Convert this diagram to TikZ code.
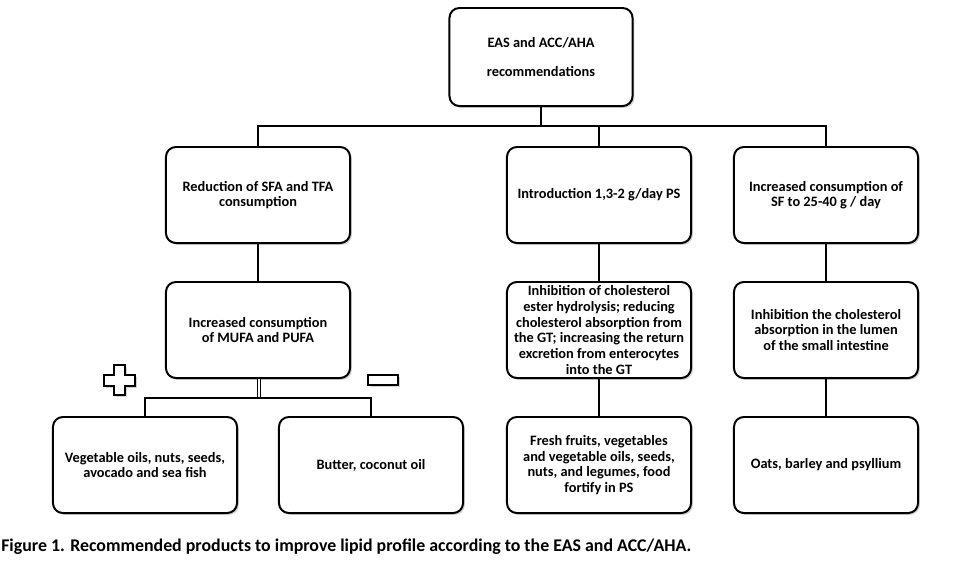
\documentclass[tikz,border=0pt]{standalone}
\usepackage{fontspec}
\setmainfont{Carlito}
\usetikzlibrary{shadows}

\begin{document}
\begin{tikzpicture}[x=0.025cm, y=-0.025cm,
  box/.style={draw, line width=1.4pt, rounded corners=7pt, fill=white, align=center,
    font=\bfseries\fontsize{10.2}{11}\selectfont, inner sep=1pt,
    minimum width=4.6cm, minimum height=2.4cm,
    drop shadow={shadow xshift=1.3pt, shadow yshift=-1.3pt, opacity=0.35}},
  sign/.style={line width=1.4pt, fill=white,
    drop shadow={shadow xshift=1.3pt, shadow yshift=-1.3pt, opacity=0.35}},
  link/.style={line width=0.9pt}]
  \useasboundingbox (0,0) rectangle (974,580);

  % Top box
  \node[box, minimum width=4.575cm, minimum height=2.45cm, font=\bfseries\fontsize{10.2}{20}\selectfont]
    (rec) at (541,57) {EAS and ACC/AHA\\recommendations};

  % Second row
  \node[box] (sfa) at (258,195) {Reduction of SFA and TFA\\consumption};
  \node[box] (ps)  at (599,195) {Introduction 1,3-2 g/day PS};
  \node[box] (sf)  at (826,195) {Increased consumption of\\SF to 25-40 g / day};

  % Third row
  \node[box] (mufa)  at (258,330) {Increased consumption\\of MUFA and PUFA};
  \node[box, font=\bfseries\fontsize{10.2}{11.3}\selectfont] (hydro) at (599,330) {Inhibition of cholesterol\\ester hydrolysis; reducing\\cholesterol absorption from\\the GT; increasing the return\\excretion from enterocytes\\into the GT};
  \node[box] (lumen) at (826,330) {Inhibition the cholesterol\\absorption in the lumen\\of the small intestine};

  % Bottom row
  \node[box] (oils)   at (145,465) {Vegetable oils, nuts, seeds,\\avocado and sea fish};
  \node[box] (butter) at (371,465) {Butter, coconut oil};
  \node[box] (fresh)  at (599,465) {Fresh fruits, vegetables\\and vegetable oils, seeds,\\nuts, and legumes, food\\fortify in PS};
  \node[box] (oats)   at (826,465) {Oats, barley and psyllium};

  % Connectors
  \coordinate (topbus) at (541,126);
  \coordinate (lowbus) at (259,398);
  \draw[link] (rec.south) -- (topbus);
  \draw[link] (sfa.north) |- (topbus) -| (sf.north);
  \draw[link] (ps.north) -- (ps.north |- topbus);
  \draw[link] (sfa.south) -- (mufa.north);
  \draw[link] (ps.south) -- (hydro.north);
  \draw[link] (hydro.south) -- (fresh.north);
  \draw[link] (sf.south) -- (lumen.north);
  \draw[link] (lumen.south) -- (oats.north);
  \draw[line width=0.8pt, double, double distance=1.3pt] (mufa.south -| lowbus) -- (lowbus);
  \draw[link] (oils.north) |- (lowbus) -| (butter.north);

  % Plus and minus signs
  \draw[sign] (114,365) -- (125,365) -- (125,375) -- (135,375) -- (135,386) -- (125,386)
    -- (125,395) -- (114,395) -- (114,386) -- (104,386) -- (104,375) -- (114,375) -- cycle;
  \draw[sign] (368,375) rectangle (398,385);

  % Caption
  \node[anchor=base west, inner sep=0pt, font=\bfseries\fontsize{12.7}{14}\selectfont]
    (caption) at (1,551) {Figure 1. Recommended products to improve lipid profile according to the EAS and ACC/AHA.};
\end{tikzpicture}
\end{document}
